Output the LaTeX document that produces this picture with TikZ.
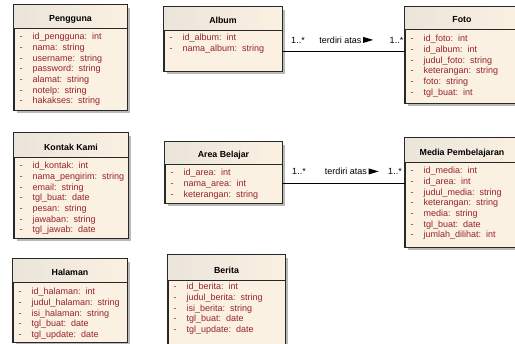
\documentclass[tikz,border=0pt]{standalone}
\usepackage{fontspec}
\setmainfont{Liberation Sans}
\usetikzlibrary{fit}
\definecolor{cream}{RGB}{251,241,226}
\definecolor{creamgrey}{RGB}{234,228,218}
\definecolor{attrred}{RGB}{150,35,40}
\definecolor{shadowgrey}{RGB}{185,185,185}
\definecolor{boxline}{RGB}{40,40,40}
\tikzset{
  classbox/.style={draw=boxline, line width=0.9pt, fill=cream, inner sep=0pt},
  classtitle/.style={font=\fontsize{8.8}{10}\selectfont\bfseries, text=black, inner sep=0pt, anchor=mid},
  attr/.style={font=\fontsize{9}{10.7}\selectfont, text=attrred, inner sep=0pt, anchor=mid west},
  assoc/.style={draw=black, line width=0.8pt},
  rolelabel/.style={font=\fontsize{9}{10}\selectfont, text=black, inner sep=0pt, anchor=mid},
  dirtri/.style={fill=black},
}
% #1 name #2 L #3 T #4 R #5 B #6 divider #7 title #8 first row y #9 attributes
\newcommand\umlclass[9]{%
  \fill[shadowgrey] (#2+3,#3+3) rectangle (#4+3,#5+3);
  \coordinate (#1-nw) at (#2,#3);
  \coordinate (#1-se) at (#4,#5);
  \node[classbox, fit=(#1-nw)(#1-se)] (#1) {};
  \shade[left color=creamgrey, right color=cream] (#2,#3) rectangle (#4,#6);
  \draw[boxline, line width=0.9pt] (#1.north west) rectangle (#1.south east);
  \draw[boxline, line width=0.9pt] (#2,#6) -- (#4,#6);
  \node[classtitle] (#1-title) at ({(#2+#4)/2},#6-9.5) {#7};
  \foreach \a [count=\i from 0] in {#9} {
    \node[attr] (#1-d\i) at (#2+5.5,#8+\i*10.7) {-};
    \node[attr] (#1-a\i) at (#2+18.5,#8+\i*10.7) {\a};
  }%
}
\begin{document}
\begin{tikzpicture}[x=1pt,y=-1pt]
\fill[white] (0,0) rectangle (515,344);
\useasboundingbox (0,0) rectangle (515,344);

\umlclass{pengguna}{14}{5}{127}{110}{28}{Pengguna}{37}{%
  id\_pengguna:\ \ int, nama:\ \ string, username:\ \ string, password:\ \ string,
  alamat:\ \ string, notelp:\ \ string, hakakses:\ \ string}
\umlclass{album}{164}{7}{282}{71}{30}{Album}{38}{%
  id\_album:\ \ int, nama\_album:\ \ string}
\umlclass{foto}{405}{7}{519}{103}{29}{Foto}{39}{%
  id\_foto:\ \ int, id\_album:\ \ int, judul\_foto:\ \ string, keterangan:\ \ string,
  foto:\ \ string, tgl\_buat:\ \ int}
\umlclass{kontak}{14}{133}{128}{238}{157}{Kontak Kami}{166}{%
  id\_kontak:\ \ int, nama\_pengirim:\ \ string, email:\ \ string, tgl\_buat:\ \ date,
  pesan:\ \ string, jawaban:\ \ string, tgl\_jawab:\ \ date}
\umlclass{area}{165}{142}{282}{203}{164}{Area Belajar}{173}{%
  id\_area:\ \ int, nama\_area:\ \ int, keterangan:\ \ string}
\umlclass{media}{405}{138}{519}{247}{162}{Media Pembelajaran}{171}{%
  id\_media:\ \ int, id\_area:\ \ int, judul\_media:\ \ string, keterangan:\ \ string,
  media:\ \ string, tgl\_buat:\ \ date, jumlah\_dilihat:\ \ int}
\umlclass{halaman}{13}{259}{127}{342}{282}{Halaman}{292}{%
  id\_halaman:\ \ int, judul\_halaman:\ \ string, isi\_halaman:\ \ string,
  tgl\_buat:\ \ date, tgl\_update:\ \ date}
\umlclass{berita}{168}{255}{285}{352}{280}{Berita}{287}{%
  id\_berita:\ \ int, judul\_berita:\ \ string, isi\_berita:\ \ string,
  tgl\_buat:\ \ date, tgl\_update:\ \ date}

% association Album - Foto
\draw[assoc] ([yshift=-12pt]album.east) coordinate (l1) -- (l1 -| foto.west);
\node[rolelabel] (m1a) at (298,40.5) {1..*};
\node[rolelabel] (t1) at (340.5,40.5) {terdiri atas};
\fill[dirtri] ([xshift=1.5pt]t1.east) ++(0,-3) -- ++(10,3) -- ++(-10,3) -- cycle;
\node[rolelabel] (m1b) at (396.5,40.5) {1..*};

% association Area Belajar - Media Pembelajaran
\draw[assoc] ([yshift=-10.5pt]area.east) coordinate (l2) -- (l2 -| media.west);
\node[rolelabel] (m2a) at (299,172) {1..*};
\node[rolelabel] (t2) at (346,172) {terdiri atas};
\fill[dirtri] ([xshift=1.5pt]t2.east) ++(0,-3) -- ++(10,3) -- ++(-10,3) -- cycle;
\node[rolelabel] (m2b) at (395,172) {1..*};
\end{tikzpicture}
\end{document}
